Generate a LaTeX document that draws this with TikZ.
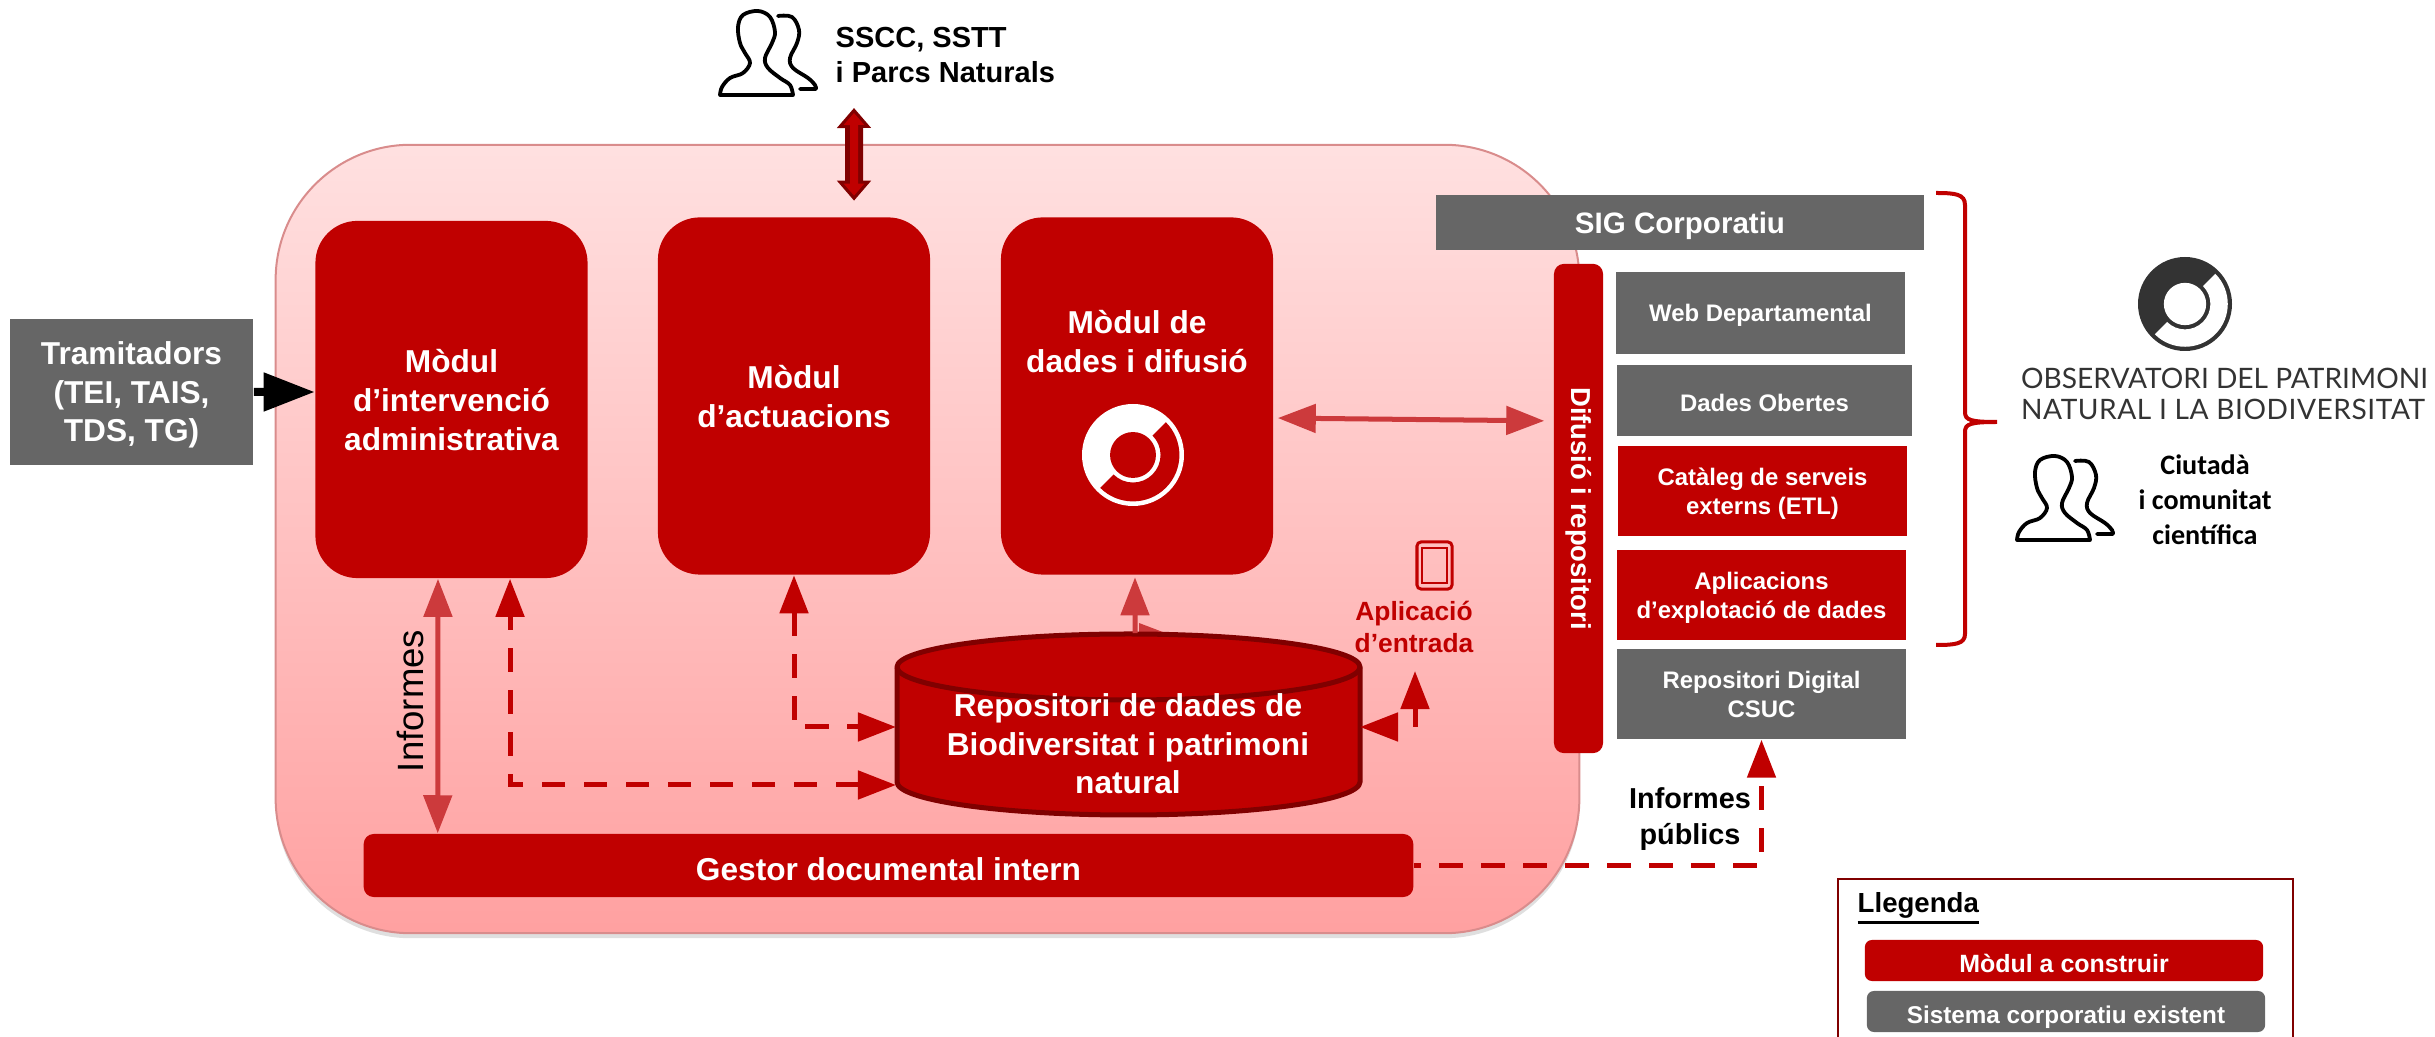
\documentclass[tikz,border=0pt]{standalone}
\usepackage{fontspec}
\setmainfont{Liberation Sans}
\newfontfamily\logofont{Lato}
\newfontfamily\ciutfont{Carlito}
\usetikzlibrary{arrows.meta}
\usetikzlibrary{shadows}

\definecolor{vermell}{HTML}{C00000}
\definecolor{fosc}{HTML}{800000}
\definecolor{gris}{HTML}{666666}
\definecolor{clar}{HTML}{CC3A3C}
\definecolor{logogris}{HTML}{333333}

\newcommand{\persones}[2]{%
\begin{scope}[shift={(#1,#2)},line width=.038cm,line join=round,line cap=round]
\draw plot[smooth,tension=.6] coordinates {(0,85) (2,77) (10,68) (23,63) (30,53) (25,43) (20,33) (18,17) (23,5) (38,1) (50,7) (55,22) (52,33) (45,48) (48,58) (60,68) (70,75) (73,85)} -- cycle;
\draw plot[smooth,tension=.6] coordinates {(58,6) (72,7) (79,20) (77,33) (70,48) (73,58) (88,68) (95,75) (96,79)} -- (80,79);
\end{scope}}

\newcommand{\logoobs}[5]{%
\begin{scope}[shift={(#1,#2)}]
\fill[#4] (0,0) circle[radius=#3];
\fill[#5] (-45:#3*.91) arc[start angle=-45,end angle=135,radius=#3*.91] -- (135:#3*.54) arc[start angle=135,end angle=-45,radius=#3*.54] -- cycle;
\fill[#5] (0,0) circle[radius=#3*.45];
\end{scope}}

\begin{document}
\begin{tikzpicture}[x=.01cm,y=-.01cm]
\useasboundingbox (0,0) rectangle (2435,1037);
\tikzstyle{modul}=[shape=rectangle,fill=vermell,text=white,rounded corners=.42cm,align=center,inner sep=0pt,execute at begin node={\rule{0pt}{.95em}},font=\bfseries\fontsize{9}{11.1}\selectfont]
\tikzstyle{gran}=[modul,minimum width=2.72cm,minimum height=3.57cm]
\tikzstyle{caixa}=[shape=rectangle,fill=gris,text=white,align=center,inner sep=0pt,execute at begin node={\rule{0pt}{.95em}},font=\bfseries\fontsize{6.8}{8.2}\selectfont]
\tikzstyle{caixav}=[caixa,fill=vermell]
\tikzstyle{fletxa}=[line width=.05cm,draw=clar,{Triangle[length=.38cm,width=.28cm,fill=clar]}-{Triangle[length=.38cm,width=.28cm,fill=clar]}]
\tikzstyle{ratlla}=[line width=.05cm,draw=vermell,dash pattern=on .235cm off .185cm]
\tikzstyle{doble}=[{Triangle[length=.38cm,width=.28cm,fill=vermell]}-{Triangle[length=.38cm,width=.28cm,fill=vermell]}]

% zona del sistema
\node[shape=rectangle,rounded corners=1.35cm,minimum width=13.03cm,minimum height=7.88cm,top color=red!12!white,bottom color=red!37!white,draw=red!50!gray!60!white,line width=.02cm,drop shadow={shadow xshift=0cm,shadow yshift=-.05cm,opacity=.25}] (zona) at (927.5,539) {};

\node[caixa,minimum width=2.43cm,minimum height=1.46cm,text depth=.2pt,font=\bfseries\fontsize{9}{10.9}\selectfont] (tram) at (131.5,392) {Tramitadors\\(TEI, TAIS,\\TDS, TG)};
\node[gran,text depth=-.8pt] (interv) at (451.5,399.5) {Mòdul\\d’intervenció\\administrativa};
\node[gran,text depth=-.8pt] (actua) at (794,396) {Mòdul\\d’actuacions};
\node[gran] (dades) at (1137,396) {};
\node[modul,fill=none] (dadest) at (1137,342) {Mòdul de\\dades i difusió};
\logoobs{1133}{455}{51}{white}{vermell}

% sistemes de la dreta
\node[caixa,minimum width=4.88cm,minimum height=.55cm,font=\bfseries\fontsize{8.4}{10}\selectfont] (sig) at (1680,222.5) {SIG Corporatiu};
\node[modul,rounded corners=.1cm,minimum width=.49cm,minimum height=4.89cm] (difus) at (1578.5,508.5) {};
\node[text=white,rotate=-90,font=\bfseries\fontsize{7.8}{9}\selectfont] (difust) at (1578.5,508.5) {Difusió i repositori};
\node[caixa,minimum width=2.89cm,minimum height=.82cm] (web) at (1760.5,313) {Web Departamental};
\node[caixa,minimum width=2.95cm,minimum height=.71cm,text depth=.4pt] (obertes) at (1764.5,400.5) {Dades Obertes};
\node[caixav,minimum width=2.89cm,minimum height=.90cm,text depth=-1.2pt] (cataleg) at (1762.5,491) {Catàleg de serveis\\externs (ETL)};
\node[caixav,minimum width=2.89cm,minimum height=.90cm,text depth=-.3pt] (aplic) at (1761.5,595) {Aplicacions\\d’explotació de dades};
\node[caixa,minimum width=2.89cm,minimum height=.90cm,text depth=-.7pt] (digital) at (1761.5,694) {Repositori Digital\\CSUC};
\node[modul,rounded corners=.1cm,minimum width=10.49cm,minimum height=.63cm] (gestor) at (888.5,865.5) {Gestor documental intern};

% connectors
\fill[clar] (1139,623) -- (1168,634) -- (1139,634) -- cycle;
\filldraw[draw=fosc,fill=vermell,line width=.05cm] (897,667) -- (897,782) arc[start angle=180,end angle=0,x radius=231.5,y radius=33] -- (1360,667) arc[start angle=0,end angle=-180,x radius=231.5,y radius=33] -- cycle;
\draw[draw=fosc,line width=.05cm] (897,667) arc[start angle=180,end angle=0,x radius=231.5,y radius=33];
\node[minimum width=4.63cm,minimum height=1.81cm,inner sep=0pt] (repo) at (1128.5,724.5) {};
\node[text=white,align=center,font=\bfseries\fontsize{9}{11}\selectfont] (repot) at (1128,744) {Repositori de dades de\\Biodiversitat i patrimoni\\natural};
\coordinate (repoa) at (896,727); %%
\coordinate (repob) at (896,785); %%
\coordinate (repoc) at (1360,727); %%
\coordinate (tauleta) at (1415,671); %%
\coordinate (usuaris) at (854,108); %%

\draw[line width=.08cm,-{Triangle[length=.51cm,width=.37cm,fill=black]}] (tram.east) -- ([yshift=.075cm]interv.west);
\draw[fletxa] ([xshift=-.135cm]interv.south) -- ([xshift=-4.505cm]gestor.north);
\draw[ratlla,doble] (actua.south) |- (repoa);
\draw[ratlla,doble] (repob) -| ([xshift=.585cm]interv.south);
\draw[ratlla,doble,dash pattern=on .19cm off .3cm] (tauleta) |- (repoc);
\draw[fletxa,shorten <=.04cm,shorten >=.09cm] ([yshift=-.22cm]dades.east) -- ([yshift=.875cm]difus.west);
\draw[line width=.05cm,draw=clar,-{Triangle[length=.38cm,width=.28cm,fill=clar]}] ([xshift=.065cm]repo.north) -- ([xshift=-.02cm,yshift=-.02cm]dades.south);
\draw[ratlla,-{Triangle[length=.38cm,width=.28cm,fill=vermell]},dash phase=.17cm] (gestor.east) -| (digital.south);

\draw[line width=.18cm,draw=fosc,{Triangle[length=.2cm,width=.33cm,fill=fosc]}-{Triangle[length=.2cm,width=.33cm,fill=fosc]}] (usuaris) -- ([xshift=.6cm,yshift=.16cm]actua.north);
\draw[line width=.08cm,draw=vermell,{Triangle[length=.12cm,width=.2cm,fill=vermell]}-{Triangle[length=.12cm,width=.2cm,fill=vermell]},shorten <=.05cm,shorten >=.05cm] (usuaris) -- ([xshift=.6cm,yshift=.16cm]actua.north);

\node[rotate=90,font=\fontsize{10.4}{12}\selectfont] (infor) at (410,701) {Informes};
\node[align=center,font=\bfseries\fontsize{8.2}{10}\selectfont] (infpub) at (1690,819) {Informes\\públics};

% tauleta
\node[draw=vermell,line width=.03cm,rounded corners=.04cm,minimum width=.35cm,minimum height=.47cm,inner sep=0pt] (tablet) at (1434.5,565.5) {};
\node[draw=vermell,line width=.02cm,minimum width=.25cm,minimum height=.34cm,inner sep=0pt] (pantalla) at (1434.5,565.5) {};
\node[text=vermell,align=center,font=\bfseries\fontsize{7.5}{8.9}\selectfont] (entrada) at (1414,627) {Aplicació\\d’entrada};

% usuaris
\persones{720}{10}
\node[align=left,anchor=west,inner sep=0pt,font=\bfseries\fontsize{8.25}{10}\selectfont] (sscc) at (835,55) {SSCC, SSTT\\i Parcs Naturals};

% clau
\draw[line width=.04cm,draw=vermell] (1936,193) .. controls (1955,193) and (1965,194) .. (1965,205) -- (1965,412) .. controls (1965,420) and (1970,422) .. (1997,422) .. controls (1970,422) and (1965,424) .. (1965,432) -- (1965,634) .. controls (1965,644) and (1955,645) .. (1936,645);

% observatori
\logoobs{2185}{304}{47}{logogris}{white}
\node[align=left,text=logogris,inner sep=0pt,font=\logofont\fontsize{8}{8.8}\selectfont] (obs) at (2224.5,394) {OBSERVATORI DEL PATRIMONI\\{\addfontfeature{LetterSpace=1.9}NATURAL I LA BIODIVERSITAT}};
\persones{2017}{455}
\node[align=center,inner sep=0pt,font=\ciutfont\bfseries\fontsize{8}{10}\selectfont] (ciuta) at (2205,500) {Ciutadà\\i comunitat\\científica};

% llegenda
\draw[line width=.025cm,draw=fosc] (1838,1037) |- (2293,879) -- (2293,1037);
\node[anchor=west,inner sep=0pt,font=\bfseries\fontsize{7.85}{9}\selectfont] (lleg) at (1857,908) {\vtop{\hbox{Llegenda}\kern.9pt\hrule height .7pt}};
\node[modul,rounded corners=.07cm,minimum width=3.98cm,minimum height=.41cm,font=\bfseries\fontsize{7.1}{8}\selectfont] (legv) at (2064,960.5) {Mòdul a construir};
\node[modul,fill=gris,rounded corners=.07cm,minimum width=3.98cm,minimum height=.41cm,text depth=-.25pt,font=\bfseries\fontsize{6.9}{8}\selectfont] (legg) at (2066,1011.5) {Sistema corporatiu existent};
\end{tikzpicture}
\end{document}
